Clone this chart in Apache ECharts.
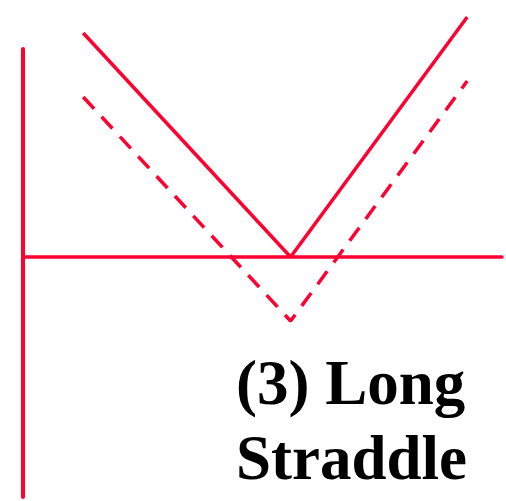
<!DOCTYPE html>
<html>
<head>
<meta charset="utf-8">
<script src="https://cdn.jsdelivr.net/npm/echarts@6/dist/echarts.min.js"></script>
<style>
  html, body { margin: 0; padding: 0; background: #fff; }
  #chart { width: 506px; height: 501px; }
</style>
</head>
<body>
<div id="chart"></div>
<script>
// stock price at expiry (strike = 100)
const prices = [22.5, 100, 166];
// payoff at expiry (solid) and profit after premium (dashed)
const payoff = [84, 0, 90];
const profit = [60, -24, 66];
const label = "(3) Long\nStraddle";

const red = "#ff0030";

const chart = echarts.init(document.getElementById("chart"));

const option = {
    animation: false,
    grid: { left: 23, right: 4, top: 49, bottom: 4 },
    xAxis: {
        type: "value",
        min: 0,
        max: 179,
        axisLine: { show: true, onZero: true, lineStyle: { color: red, width: 3.5 } },
        axisTick: { show: false },
        axisLabel: { show: false },
        splitLine: { show: false }
    },
    yAxis: {
        type: "value",
        min: -90,
        max: 78,
        axisLine: { show: true, lineStyle: { color: red, width: 4 } },
        axisTick: { show: false },
        axisLabel: { show: false },
        splitLine: { show: false }
    },
    series: [
        {
            type: "line",
            data: prices.map((p, i) => [p, payoff[i]]),
            showSymbol: false,
            clip: false,
            lineStyle: { color: red, width: 3.5 }
        },
        {
            type: "line",
            data: prices.map((p, i) => [p, profit[i]]),
            showSymbol: false,
            clip: false,
            lineStyle: { color: red, width: 3.5, type: [16, 11] }
        }
    ],
    graphic: [
        {
            type: "text",
            left: 236,
            top: 350,
            style: {
                text: label,
                font: "bold 63px 'Liberation Serif'",
                lineHeight: 75,
                fill: "#000"
            }
        }
    ]
};
chart.setOption(option);
</script>
</body>
</html>
